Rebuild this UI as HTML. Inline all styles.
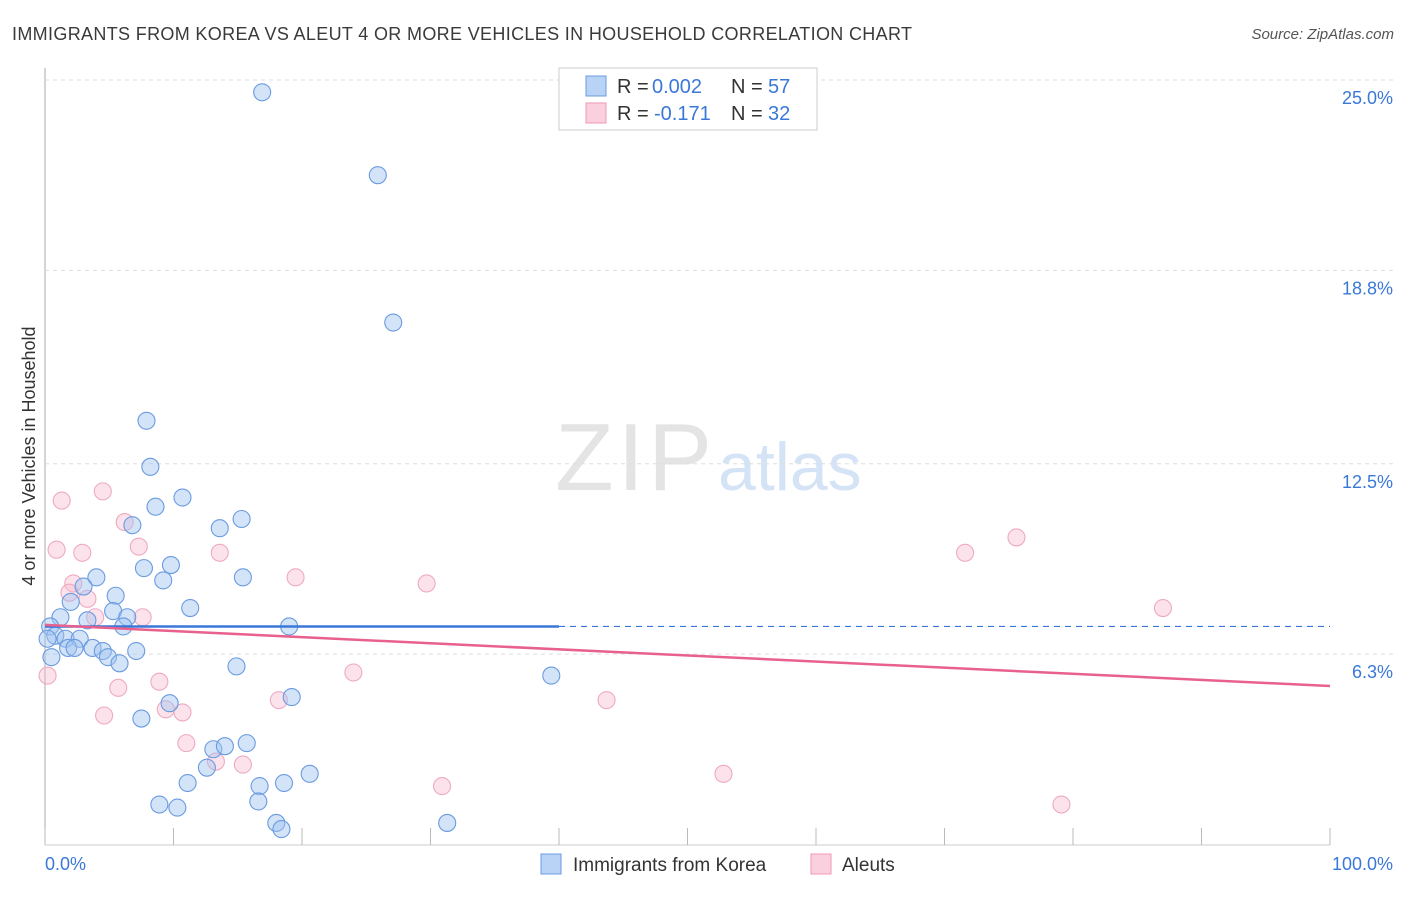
<!DOCTYPE html>
<html><head><meta charset="utf-8"><style>
body{margin:0;background:#fff;font-family:"Liberation Sans",sans-serif}
svg text{font-family:"Liberation Sans",sans-serif}
</style></head><body>
<svg id="c" width="1406" height="892">
<text x="12" y="40" font-size="18" fill="#3a3a3a" textLength="900">IMMIGRANTS FROM KOREA VS ALEUT 4 OR MORE VEHICLES IN HOUSEHOLD CORRELATION CHART</text>
<text x="1394" y="39" font-size="15" fill="#555" font-style="italic" text-anchor="end">Source: ZipAtlas.com</text>
<text x="35" y="456" font-size="18" fill="#333" text-anchor="middle" transform="rotate(-90 35 456)">4 or more Vehicles in Household</text>
<text x="555" y="490" font-size="96" fill="#e4e4e4" font-family="Liberation Serif" textLength="157">ZIP</text>
<text x="718" y="490" font-size="68" fill="#d4e3f5">atlas</text>
<g id="grid"></g><g id="pts"></g><g id="lines"></g>
<g>
<rect x="559" y="68" width="258" height="62" fill="#fff" stroke="#ccc"/>
<rect x="586" y="76" width="20" height="20" fill="#b8d3f5" stroke="#6a9be0"/>
<rect x="586" y="103" width="20" height="20" fill="#fbd0de" stroke="#ec9ab5"/>
<text x="617" y="93" font-size="20" fill="#333">R =</text>
<text x="652" y="93" font-size="20" fill="#3a78d8">0.002</text>
<text x="731" y="93" font-size="20" fill="#333">N =</text>
<text x="768" y="93" font-size="20" fill="#3a78d8">57</text>
<text x="617" y="120" font-size="20" fill="#333">R =</text>
<text x="654" y="120" font-size="20" fill="#3a78d8">-0.171</text>
<text x="731" y="120" font-size="20" fill="#333">N =</text>
<text x="768" y="120" font-size="20" fill="#3a78d8">32</text>
</g>
<g>
<rect x="541" y="854" width="20" height="20" fill="#b8d3f5" stroke="#6a9be0"/>
<text x="573" y="871" font-size="19" fill="#333">Immigrants from Korea</text>
<rect x="811" y="854" width="20" height="20" fill="#fbd0de" stroke="#ec9ab5"/>
<text x="842" y="871" font-size="19" fill="#333">Aleuts</text>
</g>
</svg>
<script>
const yTicks=[25.0,18.8,12.5,6.3];
const xTickLabels=["0.0%","100.0%"];
const koreaX=[16.9,25.9,27.1,7.9,8.2,10.7,8.6,6.8,13.6,15.3,7.7,9.8,4.0,9.2,15.4,11.3,5.5,2.0,3.0,5.3,6.4,3.3,6.1,19.0,1.2,0.4,0.8,1.6,2.7,1.8,2.3,3.7,4.5,4.9,5.8,7.1,0.5,14.9,39.4,19.2,9.7,7.5,13.1,14.0,15.7,12.6,11.1,16.7,18.6,20.6,8.9,10.3,16.6,18.0,18.4,31.3,0.2];
const koreaY=[24.6,21.9,17.1,13.9,12.4,11.4,11.1,10.5,10.4,10.7,9.1,9.2,8.8,8.7,8.8,7.8,8.2,8.0,8.5,7.7,7.5,7.4,7.2,7.2,7.5,7.2,6.9,6.8,6.8,6.5,6.5,6.5,6.4,6.2,6.0,6.4,6.2,5.9,5.6,4.9,4.7,4.2,3.2,3.3,3.4,2.6,2.1,2.0,2.1,2.4,1.4,1.3,1.5,0.8,0.6,0.8,6.8];
const aleutX=[1.3,4.5,0.9,2.9,6.2,7.3,13.6,2.2,1.9,3.3,7.6,19.5,29.7,0.2,5.7,8.9,24.0,4.6,9.4,10.7,11.0,13.3,15.4,18.2,30.9,43.7,52.8,71.6,75.6,87.0,79.1,3.9];
const aleutY=[11.3,11.6,9.7,9.6,10.6,9.8,9.6,8.6,8.3,8.1,7.5,8.8,8.6,5.6,5.2,5.4,5.7,4.3,4.5,4.4,3.4,2.8,2.7,4.8,2.0,4.8,2.4,9.6,10.1,7.8,1.4,7.5];
const koreaTrend=[7.2,7.2];
const aleutTrend=[7.25,5.26];
const NS="http://www.w3.org/2000/svg";
const X=v=>45+v*12.85, Y=v=>80+(25-v)*30.7;
function mk(t,a,p){const e=document.createElementNS(NS,t);for(const k in a)e.setAttribute(k,a[k]);p.appendChild(e);return e;}
const g=document.getElementById('grid');
mk('line',{x1:45,y1:68,x2:45,y2:845,stroke:'#aaa'},g);
mk('line',{x1:45,y1:845,x2:1330,y2:845,stroke:'#ccc'},g);
yTicks.forEach(v=>{
 const l=mk('line',{x1:45,y1:Y(v),x2:1395,y2:Y(v),stroke:'#ddd','stroke-dasharray':'4 4'},g);
 
 
 const t=mk('text',{x:1393,y:Y(v)+24,'font-size':18,fill:'#3a78d8','text-anchor':'end'},g);
 t.textContent=v.toFixed(1)+'%';
 
 
});
for(let i=0;i<=10;i++){
 const l=mk('line',{x1:X(i*10),y1:828,x2:X(i*10),y2:845,stroke:'#bbb'},g);
 
 
}
xTickLabels.forEach((s,i)=>{
 const t=mk('text',{x:i?1393:45,y:870,'font-size':18,fill:'#3a78d8','text-anchor':i?'end':'start'},g);
 t.textContent=s;
 
 
});
const p=document.getElementById('pts');
aleutX.forEach((x,i)=>{
 const c=mk('circle',{cx:X(x),cy:Y(aleutY[i]),r:8.5,fill:'rgba(248,185,205,0.4)',stroke:'#eeaac0','stroke-width':1.1},p);
 
 
});
koreaX.forEach((x,i)=>{
 const c=mk('circle',{cx:X(x),cy:Y(koreaY[i]),r:8.5,fill:'rgba(160,196,240,0.45)',stroke:'#6a9be0','stroke-width':1.1},p);
 
 
});
const L=document.getElementById('lines');
const kAt=v=>koreaTrend[0]+(koreaTrend[1]-koreaTrend[0])*v/100;
let l1=mk('line',{x1:X(0),y1:Y(kAt(0)),x2:X(40),y2:Y(kAt(40)),stroke:'#3a78d8','stroke-width':2.5},L);


let l2=mk('line',{x1:X(40),y1:Y(kAt(40)),x2:X(100),y2:Y(kAt(100)),stroke:'#3a78d8','stroke-width':1.2,'stroke-dasharray':'6 5'},L);


let l3=mk('line',{x1:X(0),y1:Y(aleutTrend[0]),x2:X(100),y2:Y(aleutTrend[1]),stroke:'#e8608e','stroke-width':2.5},L);


</script>
</body></html>
